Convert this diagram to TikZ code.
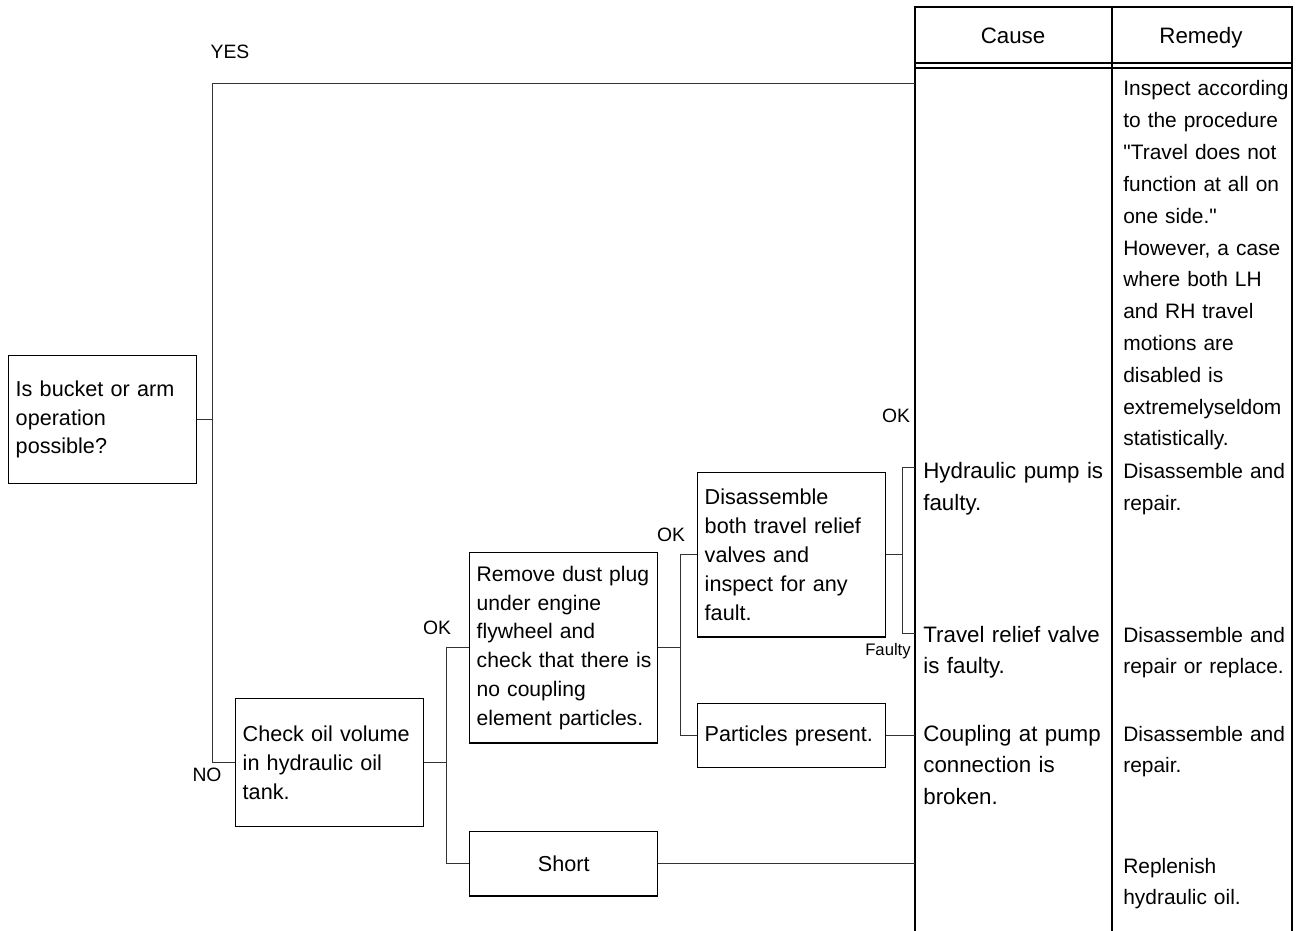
\documentclass[tikz,border=0pt]{standalone}
\usepackage{fontspec}
\setmainfont{Liberation Sans}
\usepackage{tikz}

\begin{document}
\begin{tikzpicture}[x=0.2mm,y=-0.2mm,
		box/.style={draw,line width=0.8pt,inner xsep=4pt,inner ysep=0pt,text width=99pt,align=left,anchor=north west,font=\fontsize{12.3}{16.4}\selectfont},
		txt/.style={inner sep=0pt,text width=105pt,align=left,anchor=base west,font=\fontsize{12.7}{18.1}\selectfont},
		rem/.style={txt,font=\fontsize{11.9}{18.1}\selectfont},
		hdr/.style={inner sep=0pt,anchor=base,font=\fontsize{12.7}{16}\selectfont},
		lbl/.style={inner sep=0pt,font=\fontsize{11}{13}\selectfont},
		conn/.style={line width=0.5pt,black!80},
		tab/.style={line width=0.6pt}]
				\useasboundingbox (0,0) rectangle (1306,931);

				% table
				\draw[tab,line width=1.2pt] (915,931) -- (915,7) -- (1292,7) -- (1292,931);
				\draw[tab] (1112,7) -- (1112,931);
				\draw[tab] (915,63) -- (1292,63);
				\draw[tab] (915,68) -- (1292,68);
				\node[hdr] (cause) at (1013,44) {Cause};
				\node[hdr] (remedy) at (1201,44) {Remedy};

				\coordinate (inyes) at (915,83);
				\coordinate (inok) at (915,467);
				\coordinate (infault) at (915,633);

				% checks
				\node[box,minimum height=72.6pt] (ask) at (8,355) {Is bucket or arm\\operation\\possible?};
				\node[box,minimum height=72.6pt] (oil) at (235,698) {Check oil volume\\in hydraulic oil\\tank.};
				\node[box,minimum height=108.3pt,font=\fontsize{12}{16.4}\selectfont] (plug) at (469,552) {Remove~dust~plug\\under engine\\flywheel and\\check~that~there~is\\no coupling\\element~particles.};
				\node[box,minimum height=36.5pt,align=center] (short) at (469,831) {Short};
				\node[box,minimum height=93.5pt] (relief) at (697,472) {Disassemble\\both travel relief\\valves and\\inspect for any\\fault.};
				\node[box,minimum height=36.3pt] (part) at (697,703) {Particles~present.};

				% connectors
				\draw[conn] (ask.east) -- ++(15,0) coordinate (askbus);
				\draw[conn] (inyes) -| (askbus) |- (oil.west);
				\draw[conn] (oil.east) -- ++(22,0) coordinate (oilbus);
				\draw[conn] (plug.west) -| (oilbus) |- (short.west);
				\draw[conn] (plug.east) -- ++(22,0) coordinate (plugbus);
				\draw[conn] (relief.west) -| (plugbus) |- (part.west);
				\draw[conn] (relief.east) -- ++(16,0) coordinate (reliefbus);
				\draw[conn] (inok) -| (reliefbus) |- (infault);
				\draw[conn] (part.east) -- (part.east -| inyes);
				\draw[conn] (short.east) -- (short.east -| inyes);

				\node[lbl] (yes) at (230,52) {YES};
				\node[lbl] (no) at (207,775) {NO};
				\node[lbl] (okplug) at (437,628) {OK};
				\node[lbl] (okrelief) at (671,535) {OK};
				\node[lbl] (okpump) at (896,416) {OK};
				\node[lbl,font=\fontsize{9.5}{12}\selectfont] (faulty) at (888,651) {Faulty};

				% causes
				\node[txt] (pump) at (923,479) {Hydraulic pump is\\faulty.};
				\node[txt] (valve) at (923,642) {Travel relief valve\\is faulty.};
				\node[txt] (coupling) at (923,741) {Coupling at pump\\connection is\\broken.};

				% remedies
				\node[rem] (inspect) at (1123,96) {Inspect according\\to the procedure\\\textquotedbl Travel does not\\function at all on\\one side.\textquotedbl\\However, a case\\where both LH\\and RH travel\\motions are\\disabled is\\extremelyseldom\\statistically.};
				\node[rem] (reppump) at (1123,479) {Disassemble and\\repair.};
				\node[rem] (repvalve) at (1123,642) {Disassemble and\\repair or replace.};
				\node[rem] (repcoupling) at (1123,741) {Disassemble and\\repair.};
				\node[rem] (refill) at (1123,873) {Replenish\\hydraulic oil.};
			\end{tikzpicture}
\end{document}
